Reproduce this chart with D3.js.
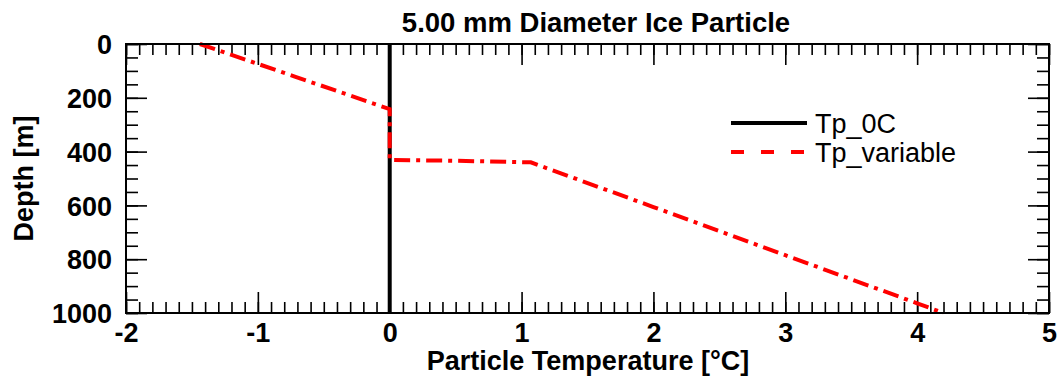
<!DOCTYPE html>
<html>
<head>
<meta charset="utf-8">
<script src="https://cdn.jsdelivr.net/npm/d3@7"></script>
<style>
  body { margin: 0; background: #fff; }
  svg { display: block; font-family: "Liberation Sans", Arial, sans-serif; }
</style>
</head>
<body>
<script>
// datos
const xTicks = [-2, -1, 0, 1, 2, 3, 4, 5]
const yTicks = [0, 200, 400, 600, 800, 1000]

const tp0cTemp = [0, 0]
const tp0cDepth = [0, 1000]

const tpVarTemp = [-1.44, -0.72, 0, 0, 0, 0.5, 1.07, 2, 3, 4, 4.2]
const tpVarDepth = [0, 121, 242, 330, 431, 434, 440, 606, 785, 964, 1000]

const seriesNames = ["Tp_0C", "Tp_variable"]

var margin = { top: 44, right: 13, bottom: 64, left: 126 }
var width = 1062 - margin.left - margin.right
var height = 377 - margin.top - margin.bottom

var svg = d3.select("body").append("svg")
    .attr("width", 1062)
    .attr("height", 377)

var g = svg.append("g")
    .attr("transform", "translate(" + margin.left + "," + margin.top + ")")

var x = d3.scaleLinear().domain([-2, 5]).range([0, width])
var y = d3.scaleLinear().domain([0, 1000]).range([0, height])

var xMinor = d3.range(-2, 5.001, 0.1)
var yMinor = d3.range(0, 1000.1, 50)

// etiquetas con guion normal, como en el original
var fmt = d => String(d)

// ejes: marcas hacia dentro en los cuatro lados
function ejes(axis, vals, len, labels) {
    return axis.tickValues(vals).tickSize(-len).tickSizeOuter(0)
        .tickFormat(labels ? fmt : "")
}

var bottomMinor = g.append("g").attr("transform", "translate(0," + height + ")")
    .call(ejes(d3.axisBottom(x), xMinor, 11, false))
var bottomMajor = g.append("g").attr("transform", "translate(0," + height + ")")
    .call(ejes(d3.axisBottom(x), xTicks, 21, true))
var topMinor = g.append("g").call(ejes(d3.axisTop(x), xMinor, 11, false))
var topMajor = g.append("g").call(ejes(d3.axisTop(x), xTicks, 21, false))
var leftMinor = g.append("g").call(ejes(d3.axisLeft(y), yMinor, 12, false))
var leftMajor = g.append("g").call(ejes(d3.axisLeft(y), yTicks, 21, true))
var rightMinor = g.append("g").attr("transform", "translate(" + width + ",0)")
    .call(ejes(d3.axisRight(y), yMinor, 12, false))
var rightMajor = g.append("g").attr("transform", "translate(" + width + ",0)")
    .call(ejes(d3.axisRight(y), yTicks, 21, false))

g.selectAll(".domain").remove()
g.selectAll(".tick line").attr("stroke", "#000").attr("stroke-width", 1.6)

bottomMajor.selectAll(".tick text")
    .attr("y", 29).attr("dy", 0)
    .style("font-size", "27px").style("font-weight", "bold").attr("fill", "#000")
leftMajor.selectAll(".tick text")
    .attr("x", -14).attr("dy", "0.36em")
    .style("font-size", "27px").style("font-weight", "bold").attr("fill", "#000")

// lineas
var linea = d3.line().x(d => x(d[0])).y(d => y(d[1]))

g.append("path")
    .datum(d3.zip(tp0cTemp, tp0cDepth))
    .attr("fill", "none")
    .attr("stroke", "#000")
    .attr("stroke-width", 4)
    .attr("d", linea)

g.append("path")
    .datum(d3.zip(tpVarTemp, tpVarDepth))
    .attr("fill", "none")
    .attr("stroke", "#ff0000")
    .attr("stroke-width", 4)
    .attr("stroke-dasharray", "16,6,4,6")
    .attr("d", linea)

// marco
g.append("rect")
    .attr("width", width).attr("height", height)
    .attr("fill", "none").attr("stroke", "#000").attr("stroke-width", 2)

// leyenda
var leyenda = svg.append("g").attr("transform", "translate(731,123)")
leyenda.append("line").attr("x1", 0).attr("x2", 76).attr("y1", 0).attr("y2", 0)
    .attr("stroke", "#000").attr("stroke-width", 4)
leyenda.append("line").attr("x1", 0).attr("x2", 76).attr("y1", 29).attr("y2", 29)
    .attr("stroke", "#ff0000").attr("stroke-width", 4).attr("stroke-dasharray", "13,17")
leyenda.selectAll("text").data(seriesNames).enter().append("text")
    .attr("x", 84).attr("y", (d, i) => i * 29 + 10)
    .style("font-size", "27px")
    .text(d => d)

// titulos
svg.append("text")
    .attr("x", 596).attr("y", 32)
    .attr("text-anchor", "middle")
    .style("font-size", "27.5px").style("font-weight", "bold")
    .text("5.00 mm Diameter Ice Particle")

svg.append("text")
    .attr("x", 588).attr("y", 370)
    .attr("text-anchor", "middle")
    .style("font-size", "27px").style("font-weight", "bold")
    .text("Particle Temperature [°C]")

svg.append("text")
    .attr("transform", "translate(33," + (margin.top + height / 2) + ") rotate(-90)")
    .attr("text-anchor", "middle")
    .style("font-size", "27px").style("font-weight", "bold")
    .text("Depth [m]")
</script>
</body>
</html>
